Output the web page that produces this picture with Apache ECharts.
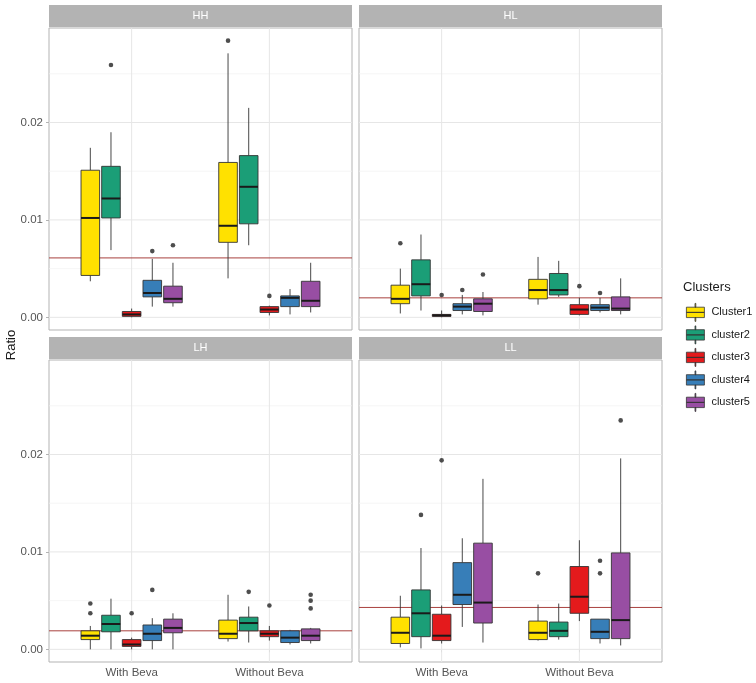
<!DOCTYPE html>
<html><head><meta charset="utf-8">
<script src="https://cdn.jsdelivr.net/npm/echarts@6/dist/echarts.min.js"></script>
<style>html,body{margin:0;padding:0;background:#fff}#c{width:756px;height:683px}</style>
</head><body><div id="c"></div>
<script>
// ---------------- data ----------------
const categories = ['With Beva', 'Without Beva'];
const panels = ['HH', 'HL', 'LH', 'LL'];
const clusters = ['Cluster1', 'cluster2', 'cluster3', 'cluster4', 'cluster5'];
const clusterColors = ['#FFE100', '#1B9E77', '#E41A1C', '#377EB8', '#984EA3'];
const yMajorTicks = [0, 0.01, 0.02];
const yMinorTicks = [0.005, 0.015, 0.025];
// per cluster: [With Beva, Without Beva], each [whiskerLow, Q1, median, Q3, whiskerHigh]
const HH_box = [
  [[0.0037, 0.0043, 0.0102, 0.0151, 0.0174], [0.0040, 0.0077, 0.0094, 0.0159, 0.0271]],
  [[0.0069, 0.0102, 0.0122, 0.0155, 0.0190], [0.0074, 0.0096, 0.0134, 0.0166, 0.0215]],
  [[0.0000, 0.0001, 0.0003, 0.0006, 0.0009], [0.0002, 0.0005, 0.0008, 0.0011, 0.0012]],
  [[0.0011, 0.0021, 0.0025, 0.0038, 0.0060], [0.0003, 0.0011, 0.0020, 0.0022, 0.0029]],
  [[0.0011, 0.0015, 0.0019, 0.0032, 0.0056], [0.0005, 0.0011, 0.0017, 0.0037, 0.0056]]
];
const HL_box = [
  [[0.0004, 0.0014, 0.0019, 0.0033, 0.0050], [0.0013, 0.0019, 0.0028, 0.0039, 0.0062]],
  [[0.0007, 0.0022, 0.0034, 0.0059, 0.0085], [0.0021, 0.0023, 0.0028, 0.0045, 0.0058]],
  [[0.0000, 0.0001, 0.0002, 0.0003, 0.0007], [0.0002, 0.0003, 0.0008, 0.0013, 0.0020]],
  [[0.0003, 0.0007, 0.0011, 0.0014, 0.0023], [0.0005, 0.0007, 0.0010, 0.0013, 0.0020]],
  [[0.0002, 0.0006, 0.0014, 0.0019, 0.0026], [0.0003, 0.0007, 0.0009, 0.0021, 0.0040]]
];
const LH_box = [
  [[0.0000, 0.0010, 0.0014, 0.0019, 0.0024], [0.0008, 0.0011, 0.0016, 0.0030, 0.0056]],
  [[0.0000, 0.0018, 0.0026, 0.0035, 0.0052], [0.0007, 0.0019, 0.0027, 0.0033, 0.0044]],
  [[0.0000, 0.0003, 0.0005, 0.0010, 0.0012], [0.0009, 0.0013, 0.0016, 0.0019, 0.0024]],
  [[0.0000, 0.0009, 0.0016, 0.0025, 0.0032], [0.0005, 0.0007, 0.0012, 0.0019, 0.0020]],
  [[0.0000, 0.0017, 0.0022, 0.0031, 0.0037], [0.0006, 0.0009, 0.0014, 0.0021, 0.0022]]
];
const LL_box = [
  [[0.0002, 0.0006, 0.0017, 0.0033, 0.0055], [0.0009, 0.0010, 0.0017, 0.0029, 0.0046]],
  [[0.0001, 0.0013, 0.0037, 0.0061, 0.0104], [0.0010, 0.0013, 0.0019, 0.0028, 0.0047]],
  [[0.0006, 0.0009, 0.0014, 0.0036, 0.0045], [0.0029, 0.0037, 0.0054, 0.0085, 0.0112]],
  [[0.0023, 0.0046, 0.0056, 0.0089, 0.0114], [0.0006, 0.0011, 0.0018, 0.0031, 0.0031]],
  [[0.0007, 0.0027, 0.0048, 0.0109, 0.0175], [0.0004, 0.0011, 0.0030, 0.0099, 0.0196]]
];
// outliers: [clusterIndex, categoryIndex, value]
const HH_outliers = [[1, 0, 0.0259], [3, 0, 0.0068], [4, 0, 0.0074], [0, 1, 0.0284], [2, 1, 0.0022]];
const HL_outliers = [[0, 0, 0.0076], [2, 0, 0.0023], [3, 0, 0.0028], [4, 0, 0.0044], [2, 1, 0.0032], [3, 1, 0.0025]];
const LH_outliers = [[0, 0, 0.0047], [0, 0, 0.0037], [2, 0, 0.0037], [3, 0, 0.0061], [1, 1, 0.0059], [2, 1, 0.0045], [4, 1, 0.0056], [4, 1, 0.0050], [4, 1, 0.0042]];
const LL_outliers = [[1, 0, 0.0138], [2, 0, 0.0194], [0, 1, 0.0078], [3, 1, 0.0091], [3, 1, 0.0078], [4, 1, 0.0235]];
const refLines = [0.0061, 0.0020, 0.0019, 0.0043];

const panelBoxes = [HH_box, HL_box, LH_box, LL_box];
const panelOutliers = [HH_outliers, HL_outliers, LH_outliers, LL_outliers];

// ---------------- layout ----------------
const FONT = '"Liberation Sans", Arial, sans-serif';
const gridRects = [
  {left: 49, top: 28, width: 303, height: 302},
  {left: 359, top: 28, width: 303, height: 302},
  {left: 49, top: 360, width: 303, height: 302},
  {left: 359, top: 360, width: 303, height: 302}
];
const Y_MIN = -0.0013, Y_MAX = 0.0297;
const DODGE = 0.15, BOXW = 0.135;

const grids = [], xAxes = [], yAxes = [], series = [], graphics = [];

gridRects.forEach((g, p) => {
  grids.push(Object.assign({show: true, borderColor: '#B3B3B3', borderWidth: 1, backgroundColor: '#fff', containLabel: false}, g));
  const bottomRow = p >= 2, leftCol = p % 2 === 0;
  xAxes.push({
    type: 'value', gridIndex: p, min: 0.4, max: 2.6,
    axisLine: {show: false}, splitLine: {show: false},
    axisTick: {show: bottomRow, customValues: [1, 2], length: 3, lineStyle: {color: '#B3B3B3'}},
    axisLabel: {show: bottomRow, customValues: [1, 2], margin: 5, fontSize: 11.5, color: '#555', fontFamily: FONT,
      formatter: v => categories[Math.round(v) - 1] || ''}
  });
  yAxes.push({
    type: 'value', gridIndex: p, min: Y_MIN, max: Y_MAX,
    axisLine: {show: false}, splitLine: {show: false},
    axisTick: {show: leftCol, customValues: yMajorTicks, length: 3, lineStyle: {color: '#B3B3B3'}},
    axisLabel: {show: leftCol, customValues: yMajorTicks, margin: 6, fontSize: 11.5, color: '#555', fontFamily: FONT,
      formatter: v => v.toFixed(2)}
  });

  // background grid lines + reference line (kind: 0 major-h, 1 minor-h, 2 vertical, 3 reference)
  const bgData = [];
  yMajorTicks.forEach(v => bgData.push([1, v, 0]));
  yMinorTicks.forEach(v => bgData.push([1, v, 1]));
  [1, 2].forEach(v => bgData.push([v, 0, 2]));
  bgData.push([1, refLines[p], 3]);
  series.push({
    type: 'custom', name: 'bg' + p, xAxisIndex: p, yAxisIndex: p, z: 1, silent: true,
    data: bgData, encode: {x: 0, y: 1},
    renderItem: (params, api) => {
      const cs = params.coordSys;
      const kind = api.value(2);
      const pt = api.coord([api.value(0), api.value(1)]);
      if (kind === 2) {
        return {type: 'line', shape: {x1: pt[0], y1: cs.y, x2: pt[0], y2: cs.y + cs.height}, style: {stroke: '#E6E6E6', lineWidth: 1}};
      }
      const styles = [
        {stroke: '#E6E6E6', lineWidth: 1},
        {stroke: '#F1F1F1', lineWidth: 0.7},
        null,
        {stroke: '#A8403E', lineWidth: 1}
      ];
      return {type: 'line', shape: {x1: cs.x, y1: pt[1], x2: cs.x + cs.width, y2: pt[1]}, style: styles[kind]};
    }
  });

  // boxes
  panelBoxes[p].forEach((cl, k) => {
    const off = (k - 2) * DODGE, hw = BOXW / 2;
    series.push({
      type: 'custom', name: clusters[k], xAxisIndex: p, yAxisIndex: p, z: 3,
      itemStyle: {color: clusterColors[k]},
      data: cl.map((s, c) => [c + 1].concat(s)),
      encode: {x: 0, y: [1, 2, 3, 4, 5]},
      renderItem: (params, api) => {
        const x = api.value(0) + off;
        const lo = api.coord([x, api.value(1)]);
        const q1 = api.coord([x, api.value(2)]);
        const q3 = api.coord([x, api.value(4)]);
        const hi = api.coord([x, api.value(5)]);
        const bl = api.coord([x - hw, api.value(2)]);
        const tr = api.coord([x + hw, api.value(4)]);
        const ml = api.coord([x - hw, api.value(3)]);
        const mr = api.coord([x + hw, api.value(3)]);
        const stroke = '#333333';
        return {type: 'group', children: [
          {type: 'line', shape: {x1: lo[0], y1: lo[1], x2: q1[0], y2: q1[1]}, style: {stroke, lineWidth: 0.9}},
          {type: 'line', shape: {x1: q3[0], y1: q3[1], x2: hi[0], y2: hi[1]}, style: {stroke, lineWidth: 0.9}},
          {type: 'rect', shape: {x: bl[0], y: tr[1], width: tr[0] - bl[0], height: Math.max(bl[1] - tr[1], 0.5)},
            style: {fill: clusterColors[k], stroke, lineWidth: 0.9}},
          {type: 'line', shape: {x1: ml[0], y1: ml[1], x2: mr[0], y2: mr[1]}, style: {stroke: '#1A1A1A', lineWidth: 2}}
        ]};
      }
    });
  });

  // outliers
  series.push({
    type: 'scatter', name: 'outliers' + p, xAxisIndex: p, yAxisIndex: p, z: 4, silent: true,
    symbolSize: 4.6, itemStyle: {color: '#222'},
    data: panelOutliers[p].map(o => [o[1] + 1 + (o[0] - 2) * DODGE, o[2]])
  });

  // strip
  graphics.push({
    type: 'group', children: [
      {type: 'rect', shape: {x: g.left, y: g.top - 23, width: g.width, height: 22}, style: {fill: '#B3B3B3'}},
      {type: 'text', x: g.left + g.width / 2, y: g.top - 12, style: {text: panels[p], fill: '#fff', font: '11px ' + FONT, align: 'center', verticalAlign: 'middle'}}
    ]
  });
});

graphics.push({
  type: 'text', x: 11, y: 345, rotation: Math.PI / 2,
  style: {text: 'Ratio', fill: '#1A1A1A', font: '13px ' + FONT, align: 'center', verticalAlign: 'middle'}
});

const legendIcon = 'path://M0,3.8L18,3.8L18,9L0,9Z M0,9L18,9L18,14.2L0,14.2Z M8.6,0L9.4,0L9.4,3.8L8.6,3.8Z M8.6,14.2L9.4,14.2L9.4,18L8.6,18Z';

const option = {
  animation: false,
  backgroundColor: '#fff',
  title: {text: 'Clusters', left: 683, top: 281, padding: 0,
    textStyle: {fontSize: 13, fontWeight: 'normal', color: '#1A1A1A', fontFamily: FONT}},
  legend: {
    data: clusters, orient: 'vertical', left: 686, top: 303, padding: 0,
    itemWidth: 18, itemHeight: 18, itemGap: 3.7, icon: legendIcon, selectedMode: false,
    itemStyle: {borderColor: '#333', borderWidth: 0.8},
    textStyle: {fontSize: 11, color: '#1A1A1A', fontFamily: FONT, padding: [0, 0, 0, 2]}
  },
  grid: grids, xAxis: xAxes, yAxis: yAxes, series: series, graphic: graphics
};

const chart = echarts.init(document.getElementById('c'), null, {renderer: 'canvas'});
chart.setOption(option);
</script></body></html>
